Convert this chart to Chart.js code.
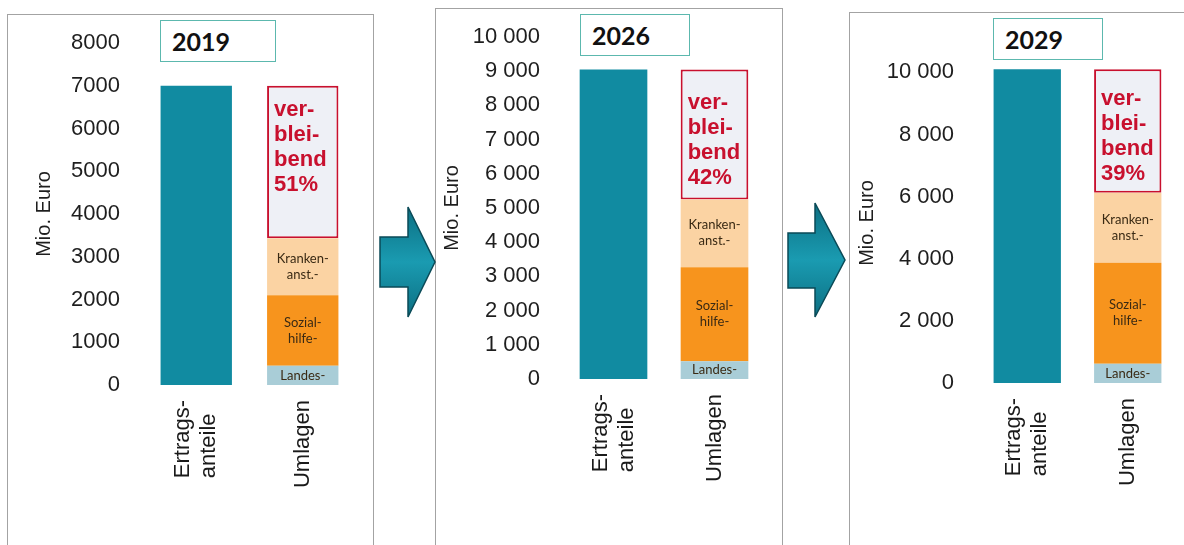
<!DOCTYPE html>
<html>
<head>
<meta charset="utf-8">
<script src="https://cdn.jsdelivr.net/npm/chart.js@4.4.1/dist/chart.umd.min.js"></script>
<style>
  body { margin: 0; background: #fff; width: 1184px; height: 545px; overflow: hidden; position: relative; font-family: 'Liberation Sans', Arial, sans-serif; }
  .panel { position: absolute; border: 1.5px solid #a3a3a3; background: #fff; }
  .year { position: absolute; border: 1.5px solid #5cb8ae; background: #fff; height: 42px; box-sizing: border-box;
          font: bold 25px Lato, 'Open Sans', sans-serif; color: #111; line-height: 40px; padding-left: 11px; }
  canvas { position: absolute; }
  svg { position: absolute; left: 0; top: 0; }
</style>
</head>
<body>
<div class="panel" style="left:7px;top:14px;width:365px;height:560px"></div>
<div class="panel" style="left:435px;top:8px;width:346px;height:560px"></div>
<div class="panel" style="left:849px;top:12px;width:360px;height:560px"></div>

<canvas id="c0"></canvas>
<canvas id="c1"></canvas>
<canvas id="c2"></canvas>

<div class="year" id="y0" style="left:160px;top:20px;width:116px"></div>
<div class="year" id="y1" style="left:580px;top:14px;width:110px"></div>
<div class="year" id="y2" style="left:993px;top:18px;width:110px"></div>

<svg width="1184" height="545">
  <defs>
    <linearGradient id="ag" x1="0" y1="0" x2="0" y2="1">
      <stop offset="0" stop-color="#0c6f82"/>
      <stop offset="0.5" stop-color="#1a9bb1"/>
      <stop offset="1" stop-color="#0c6f82"/>
    </linearGradient>
  </defs>
  <polygon points="380,237 408,237 408,207 435,262 408,317 408,287 380,287" fill="url(#ag)" stroke="#0a4a57" stroke-width="1.5"/>
  <polygon points="788,233 815,233 815,203 845,260 815,317 815,288 788,288" fill="url(#ag)" stroke="#0a4a57" stroke-width="1.5"/>
</svg>

<script>
// data
const categories = [['Ertrags-', 'anteile'], ['Umlagen']];
const years = ['2019', '2026', '2029'];
const ertragsanteile = [7000, 9050, 10100];
const landesUmlage = [450, 520, 620];
const sozialhilfeUmlage = [1650, 2750, 3250];
const krankenanstUmlage = [1330, 1980, 2250];
const verbleibend = [3570, 3800, 3980];
const verbleibendPct = ['51%', '42%', '39%'];
const verbleibendWords = ['ver-', 'blei-', 'bend'];
const landesText = ['Landes-'];
const sozialText = ['Sozial-', 'hilfe-'];
const krankenText = ['Kranken-', 'anst.-'];
const yTicks = [
  [0, 1000, 2000, 3000, 4000, 5000, 6000, 7000, 8000],
  [0, 1000, 2000, 3000, 4000, 5000, 6000, 7000, 8000, 9000, 10000],
  [0, 2000, 4000, 6000, 8000, 10000]
];
const yMax = [8000, 10000, 10300];
const thousandsSep = ['', ' ', ' '];

// layout of the three panels (screen coords)
const panels = [
  { left: 8, top: 15, width: 364, area: { left: 143, right: 356, top: 43, bottom: 385 }, titlePad: 24, remainOff: 24 },
  { left: 436, top: 9, width: 345, area: { left: 563, right: 765, top: 37, bottom: 379 }, titlePad: 4, remainOff: 33 },
  { left: 850, top: 13, width: 334, area: { left: 977, right: 1178, top: 63, bottom: 383 }, titlePad: 5, remainOff: 30 }
];

Chart.defaults.font.family = "'Liberation Sans', Arial, sans-serif";
Chart.defaults.color = '#1a1a1a';

function fmt(v, sep) {
  return String(v).replace(/\B(?=(\d{3})+(?!\d))/g, sep);
}

const barLabels = {
  id: 'barLabels',
  afterDatasetsDraw(chart, args, opts) {
    const ctx = chart.ctx;
    ctx.save();
    chart.data.datasets.forEach((ds, di) => {
      if (!ds.inner && !ds.remain) return;
      const el = chart.getDatasetMeta(di).data[1];
      const p = el.getProps(['x', 'y', 'base', 'width'], true);
      if (ds.inner) {
        ctx.font = "13px Lato, 'Open Sans', sans-serif";
        ctx.fillStyle = '#3a2a14';
        ctx.textAlign = 'center';
        ctx.textBaseline = 'middle';
        const cy = (p.y + p.base) / 2;
        const n = ds.inner.length;
        ds.inner.forEach((t, j) => ctx.fillText(t, p.x, cy + (j - (n - 1) / 2) * 16));
      } else {
        ctx.font = "bold 22px 'Liberation Sans', Arial, sans-serif";
        ctx.fillStyle = '#c8102e';
        ctx.textAlign = 'left';
        ctx.textBaseline = 'middle';
        const x0 = p.x - p.width / 2 + 7;
        ds.remain.forEach((t, j) => ctx.fillText(t, x0, p.y + opts.off + j * 25));
      }
    });
    // category labels, rotated
    const xs = chart.scales.x;
    ctx.font = "22px 'Liberation Sans', Arial, sans-serif";
    ctx.fillStyle = '#1a1a1a';
    ctx.textAlign = 'left';
    ctx.textBaseline = 'middle';
    categories.forEach((lines, i) => {
      const px = xs.getPixelForValue(i);
      const w = Math.max(...lines.map(l => ctx.measureText(l).width));
      ctx.save();
      ctx.translate(px, chart.chartArea.bottom + 15);
      ctx.rotate(-Math.PI / 2);
      lines.forEach((l, j) => ctx.fillText(l, -w, (j - (lines.length - 1) / 2) * 26));
      ctx.restore();
    });
    ctx.restore();
  }
};

panels.forEach((pn, i) => {
  const cv = document.getElementById('c' + i);
  const h = 545 - pn.top;
  cv.width = pn.width;
  cv.height = h;
  cv.style.left = pn.left + 'px';
  cv.style.top = pn.top + 'px';
  document.getElementById('y' + i).textContent = years[i];

  new Chart(cv, {
    type: 'bar',
    data: {
      labels: categories,
      datasets: [
        { label: 'Ertragsanteile', data: [ertragsanteile[i], null], backgroundColor: '#118ba1' },
        { label: 'Landesumlage', data: [null, landesUmlage[i]], backgroundColor: '#a9cdd7', inner: landesText },
        { label: 'Sozialhilfeumlage', data: [null, sozialhilfeUmlage[i]], backgroundColor: '#f7941d', inner: sozialText },
        { label: 'Krankenanstaltenumlage', data: [null, krankenanstUmlage[i]], backgroundColor: '#fbd3a3', inner: krankenText },
        { label: 'verbleibend', data: [null, verbleibend[i]], backgroundColor: '#eef0f6',
          borderColor: '#c8102e', borderWidth: 2, borderSkipped: false,
          remain: verbleibendWords.concat([verbleibendPct[i]]) }
      ]
    },
    options: {
      responsive: false,
      animation: false,
      datasets: { bar: { barPercentage: 0.67, categoryPercentage: 1 } },
      layout: { padding: { top: pn.area.top - pn.top, right: pn.left + pn.width - pn.area.right, left: 0, bottom: 0 } },
      plugins: { legend: { display: false }, tooltip: { enabled: false }, barLabels: { off: pn.remainOff } },
      scales: {
        x: {
          stacked: true,
          grid: { display: false, drawTicks: false },
          border: { display: false },
          ticks: { display: false },
          afterFit: s => { s.height = 545 - pn.area.bottom; }
        },
        y: {
          stacked: true,
          min: 0,
          max: yMax[i],
          grid: { display: false, drawTicks: true, tickLength: 20 },
          border: { display: false },
          ticks: { padding: 3, font: { size: 22 }, color: '#1e1e1e',
                   callback: v => fmt(v, thousandsSep[i]) },
          afterBuildTicks: s => { s.ticks = yTicks[i].map(v => ({ value: v })); },
          afterFit: s => { s.width = pn.area.left - pn.left; },
          title: { display: true, text: 'Mio. Euro', font: { size: 20 }, color: '#1e1e1e', padding: { top: pn.titlePad, bottom: 0 } }
        }
      }
    },
    plugins: [barLabels]
  });
});
</script>
</body>
</html>
